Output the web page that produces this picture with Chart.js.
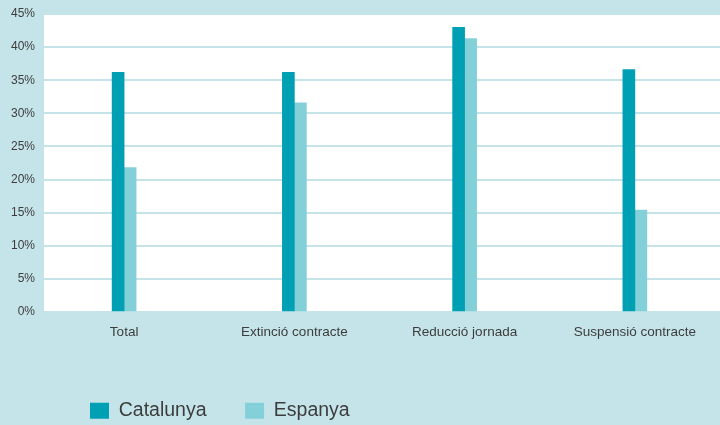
<!DOCTYPE html>
<html>
<head>
<meta charset="utf-8">
<script src="https://cdn.jsdelivr.net/npm/chart.js@4/dist/chart.umd.min.js"></script>
<style>
  html, body { margin: 0; padding: 0; background: #c4e4e9; }
  canvas { display: block; }
</style>
</head>
<body>
<canvas id="c" width="720" height="425"></canvas>
<script>
const categories = ['Total', 'Extinció contracte', 'Reducció jornada', 'Suspensió contracte'];
const seriesNames = ['Catalunya', 'Espanya'];
const catalunya = [36.2, 36.2, 43.0, 36.6];
const espanya = [21.8, 31.6, 41.3, 15.4];
const yTicks = [0, 5, 10, 15, 20, 25, 30, 35, 40, 45];

const BG = '#c4e4e9';
const TEXT = '#3d3d3d';
const FONT = '"Liberation Sans", Arial, Helvetica, sans-serif';

const bgPlugin = {
  id: 'bgPlugin',
  afterInit(chart) {
    const lg = chart.legend;
    if (lg && !lg._patched) {
      const orig = lg.fit;
      lg.fit = function () { orig.call(this); this.height = 30; };
      lg._patched = true;
    }
  },
  afterLayout(chart) {
    const lg = chart.legend;
    const pad = lg.options.labels.padding;
    lg.left = 90 - pad;
    lg.top = 401 - pad;
    lg.right = 720;
    lg.bottom = 425;
    lg.width = lg.right - lg.left;
    lg.height = lg.bottom - lg.top;
  },
  beforeDraw(chart) {
    const ctx = chart.ctx;
    const a = chart.chartArea;
    ctx.save();
    ctx.fillStyle = BG;
    ctx.fillRect(0, 0, chart.width, chart.height);
    ctx.fillStyle = '#ffffff';
    ctx.fillRect(a.left + 5, a.top, a.right - a.left - 5, a.bottom - a.top);
    ctx.restore();
  }
};

new Chart(document.getElementById('c'), {
  type: 'bar',
  data: {
    labels: categories,
    datasets: [
      { label: seriesNames[0], data: catalunya, backgroundColor: '#00a0b4', borderWidth: 0, barThickness: 12 },
      { label: seriesNames[1], data: espanya, backgroundColor: '#84d0d9', borderWidth: 0, barThickness: 12 }
    ]
  },
  options: {
    responsive: false,
    animation: false,
    layout: { padding: { top: 14, left: 0, right: 0, bottom: 0 } },
    plugins: {
      tooltip: { enabled: false },
      legend: {
        position: 'bottom',
        align: 'start',
        labels: {
          boxWidth: 19,
          boxHeight: 16,
          padding: 38.5,
          color: TEXT,
          font: { family: FONT, size: 19.5 }
        }
      }
    },
    scales: {
      x: {
        grid: { display: false, drawTicks: false },
        border: { display: false },
        ticks: { color: TEXT, font: { family: FONT, size: 13.5 }, padding: 12, maxRotation: 0 },
        afterFit(s) { s.height = 83; }
      },
      y: {
        min: 0,
        max: 45,
        afterBuildTicks(s) { s.ticks = yTicks.map(v => ({ value: v })); },
        grid: { color: BG, lineWidth: 2, drawTicks: false },
        border: { display: false },
        ticks: { color: TEXT, font: { family: FONT, size: 12 }, padding: 4, callback: v => v + '%' },
        afterFit(s) { s.width = 39; }
      }
    }
  },
  plugins: [bgPlugin]
});
</script>
</body>
</html>
